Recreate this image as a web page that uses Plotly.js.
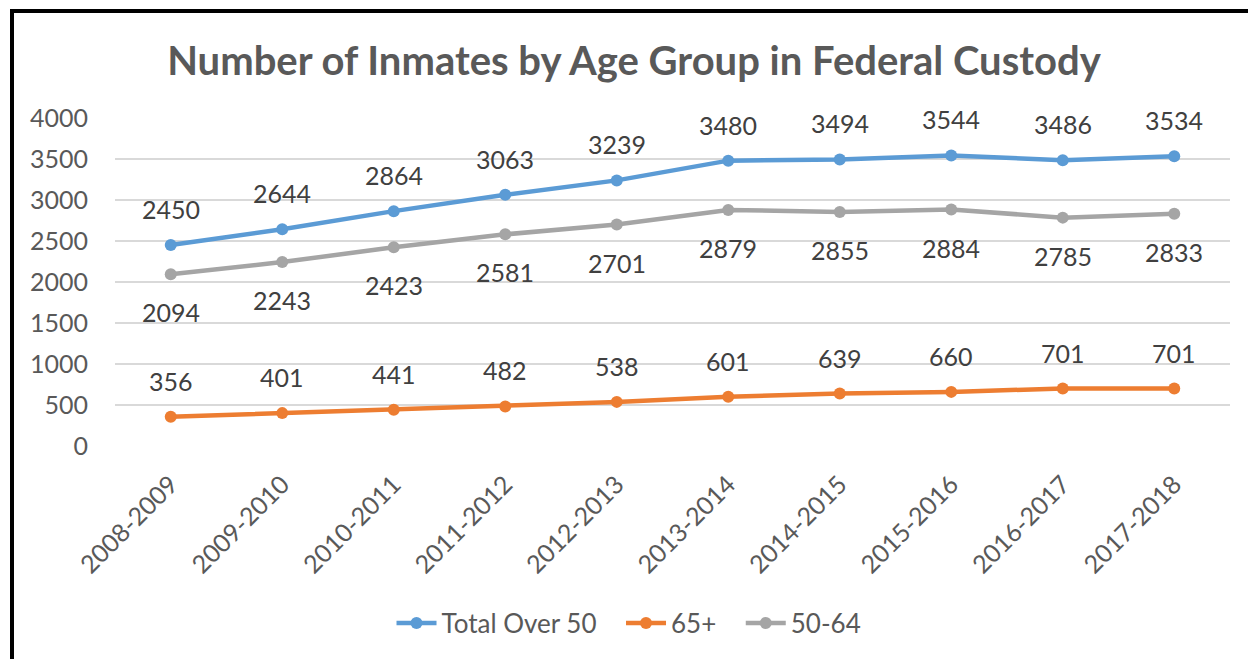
<!DOCTYPE html>
<html><head><meta charset="utf-8">
<script src="https://cdn.plot.ly/plotly-3.0.1.min.js"></script>
<style>
html,body{margin:0;padding:0;background:#fff;overflow:hidden}
#chart{width:1248px;height:659px}
#frame{position:absolute;left:10px;top:9px;width:1400px;height:800px;border-left:4px solid #000;border-top:4px solid #000;pointer-events:none}
</style></head>
<body>
<div id="chart"></div>
<div id="frame"></div>
<script>
const categories = ["2008-2009","2009-2010","2010-2011","2011-2012","2012-2013","2013-2014","2014-2015","2015-2016","2016-2017","2017-2018"];
const totalOver50 = [2450,2644,2864,3063,3239,3480,3494,3544,3486,3534];
const age65plus = [356,401,441,482,538,601,639,660,701,701];
const age50to64 = [2094,2243,2423,2581,2701,2879,2855,2884,2785,2833];
const yTicks = [0,500,1000,1500,2000,2500,3000,3500,4000];
const seriesNames = ["Total Over 50","65+","50-64"];

const FONT = "Lato, 'Open Sans', sans-serif";
const GAP = "\u2003";
const series = [
  {name:seriesNames[0] + GAP, y:totalOver50, color:"#5B9BD5", shift:36},
  {name:seriesNames[1] + GAP, y:age65plus, color:"#ED7D31", shift:36},
  {name:seriesNames[2], y:age50to64, color:"#A5A5A5", shift:-38}
];
const traces = series.map(s => ({
  type:"scatter", mode:"lines+markers", name:s.name, x:categories, y:s.y,
  line:{color:s.color, width:4.5}, marker:{color:s.color, size:12},
  cliponaxis:false
}));
const annotations = [];
series.forEach(s => s.y.forEach((v,i) => annotations.push({
  x:categories[i], y:v, xref:"x", yref:"y", text:String(v), showarrow:false,
  yshift:s.shift, font:{family:FONT, size:25, color:"#404040"}
})));

Plotly.newPlot("chart", traces, {
  width:1248, height:659,
  margin:{l:115, r:18, t:118, b:211},
  paper_bgcolor:"#fff", plot_bgcolor:"#fff",
  title:{text:"Number of Inmates by Age Group in Federal Custody", x:0.508, xanchor:"center", y:0.907, yanchor:"middle",
         font:{family:FONT, size:40, color:"#595959", weight:"bold"}},
  xaxis:{type:"category", range:[-0.5,9.5], tickangle:-45, showgrid:false, zeroline:false, showline:false,
         ticks:"", ticklabelstandoff:18, tickfont:{family:FONT, size:25, color:"#595959"}},
  yaxis:{range:[0,4000], tickvals:yTicks, ticktext:yTicks.map(String), showgrid:true, gridcolor:"#D9D9D9", gridwidth:1.5,
         zeroline:false, showline:false, ticks:"", ticklabelstandoff:26, tickfont:{family:FONT, size:25, color:"#595959"}},
  showlegend:true,
  legend:{orientation:"h", x:0.461, xanchor:"center", y:-0.54, yanchor:"middle",
          font:{family:FONT, size:26, color:"#595959"}, itemwidth:40, traceorder:"normal"},
  annotations:annotations
}, {staticPlot:true});
</script>
</body></html>
